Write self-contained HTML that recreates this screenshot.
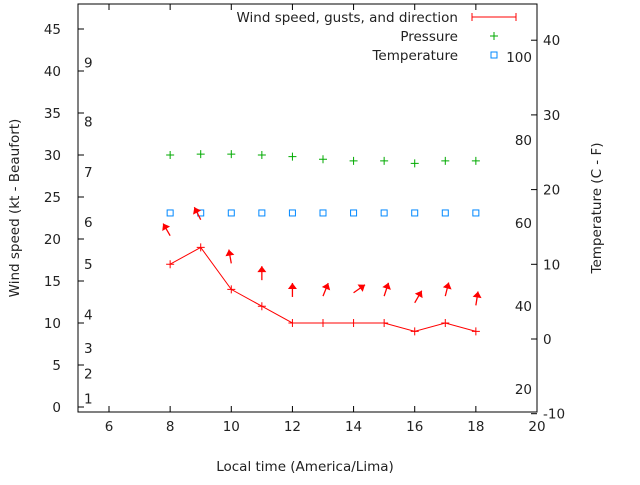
<!DOCTYPE html>
<html><head><meta charset="utf-8"><style>
body{margin:0;background:#fff}
svg text{font-family:"DejaVu Sans","Liberation Sans",sans-serif;font-size:13.5px;fill:#222}
</style></head><body>
<svg id="c" width="640" height="480" xmlns="http://www.w3.org/2000/svg">
<rect x="0" y="0" width="640" height="480" fill="#fff"/>
<g id="axes"></g>
<g id="marks"></g>
<text x="305" y="471" text-anchor="middle">Local time (America/Lima)</text>
<text transform="translate(19,208) rotate(-90)" text-anchor="middle">Wind speed (kt - Beaufort)</text>
<text transform="translate(601,208) rotate(-90)" text-anchor="middle">Temperature (C - F)</text>
<g>
<text x="458" y="22" text-anchor="end">Wind speed, gusts, and direction</text>
<line x1="472" y1="17" x2="516" y2="17" stroke="red"/>
<line x1="472" y1="13" x2="472" y2="21" stroke="red"/>
<line x1="516" y1="13" x2="516" y2="21" stroke="red"/>
<text x="458" y="41" text-anchor="end">Pressure</text>
<path d="M490 36h8M494 32v8" stroke="#0a0"/>
<text x="458" y="60" text-anchor="end">Temperature</text>
<rect x="491" y="52" width="6" height="6" fill="none" stroke="#08f"/>
</g>
</svg>
<script>
const hours=[8,9,10,11,12,13,14,15,16,17,18];
const wind=[17,19,14,12,10,10,10,10,9,10,9];
const gusts=[20.4,22.3,17.1,15.1,13.1,13.2,13.6,13.2,12.4,13.2,12.1];
const direction=[330,333,350,0,0,22,55,18,30,14,9];
const pressure=[30.0,30.1,30.1,30.0,29.8,29.5,29.3,29.3,29.0,29.3,29.3];
const temperature=[23.1,23.1,23.1,23.1,23.1,23.1,23.1,23.1,23.1,23.1,23.1];
const xTicks=[6,8,10,12,14,16,18,20];
const yTicks=[0,5,10,15,20,25,30,35,40,45];
const y2Ticks=[-10,0,10,20,30,40];
const beaufort=[[1,1],[2,4],[3,7],[4,11],[5,17],[6,22],[7,28],[8,34],[9,41]];
const fahr=[20,40,60,80,100];
const L=78,R=537,T=4,B=412;
const X=v=>109+(v-6)*(537-109)/14;
const Y=v=>407-v*8.4;
const Y2=c=>339-c*7.47;
const NS="http://www.w3.org/2000/svg";
function mk(p,tag,a,txt){const e=document.createElementNS(NS,tag);for(const k in a)e.setAttribute(k,a[k]);if(txt!==undefined)e.textContent=txt;p.appendChild(e);return e;}
const ax=document.getElementById('axes'),mg=document.getElementById('marks');
const fr=mk(ax,'rect',{x:L,y:T,width:R-L,height:B-T,fill:'none',stroke:'#000'});


xTicks.forEach(v=>{const x=X(v);
 const t=mk(ax,'path',{d:`M${x} ${B}v-6M${x} ${T}v6`,stroke:'#000'});
 
 
 const l=mk(ax,'text',{x:x,y:B+19,'text-anchor':'middle'},v);
 
 });
yTicks.forEach(v=>{const y=Y(v);
 const t=mk(ax,'path',{d:`M${L} ${y}h6`,stroke:'#000'});
 
 
 const l=mk(ax,'text',{x:L-17,y:y+5,'text-anchor':'end'},v);
 
 });
y2Ticks.forEach(v=>{const y=Y2(v);
 const t=mk(ax,'path',{d:`M${R} ${y}h-6`,stroke:'#000'});
 
 
 const l=mk(ax,'text',{x:R+6,y:y+5},v);
 
 });
beaufort.forEach(([b,kt])=>{
 const l=mk(ax,'text',{x:84,y:Y(kt)+5},b);
 
 });
fahr.forEach(f=>{
 const l=mk(ax,'text',{x:532,y:Y2((f-32)*5/9)+5,'text-anchor':'end'},f);
 
 });
const pl=mk(mg,'polyline',{points:hours.map((h,i)=>X(h)+','+Y(wind[i])).join(' '),fill:'none',stroke:'red'});


hours.forEach((h,i)=>{const x=X(h),y=Y(wind[i]);
 const p=mk(mg,'path',{d:`M${x-4} ${y}h8M${x} ${y-4}v8`,stroke:'red'});
 
 
 const px=X(h),py=Y(pressure[i]);
 const q=mk(mg,'path',{d:`M${px-4} ${py}h8M${px} ${py-4}v8`,stroke:'#0a0'});
 
 
 const ty=Y(temperature[i]);
 const s=mk(mg,'rect',{x:px-3,y:ty-3,width:6,height:6,fill:'none',stroke:'#08f'});
 
 
 const gy=Y(gusts[i]),a=direction[i]*Math.PI/180,len=14;
 const hx=x+len*Math.sin(a),hy=gy-len*Math.cos(a);
 const g=mk(mg,'g',{});
 
 
 mk(g,'line',{x1:x,y1:gy,x2:hx,y2:hy,stroke:'red','stroke-width':1.3});
 const bx=Math.sin(a),by=-Math.cos(a),nx=-by,ny=bx;
 mk(g,'polygon',{points:`${hx},${hy} ${hx-6*bx+4.5*nx},${hy-6*by+4.5*ny} ${hx-6*bx-4.5*nx},${hy-6*by-4.5*ny}`,fill:'red'});
});
</script>
</body></html>
